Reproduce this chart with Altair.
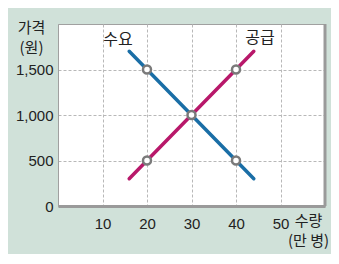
import altair as alt
import pandas as pd

# Data
demand_q = [16, 20, 30, 40, 44]
demand_p = [1700, 1500, 1000, 500, 300]
supply_q = [16, 20, 30, 40, 44]
supply_p = [300, 500, 1000, 1500, 1700]
point_q = [20, 40, 30, 20, 40]
point_p = [1500, 1500, 1000, 500, 500]
label_text = ["수요", "공급"]
label_q = [13.5, 45.4]
label_p = [1820, 1845]
x_ticks = [10, 20, 30, 40, 50]
y_ticks = [0, 500, 1000, 1500]

lines = pd.DataFrame({
    "q": demand_q + supply_q,
    "p": demand_p + supply_p,
    "s": ["수요"] * len(demand_q) + ["공급"] * len(supply_q),
})
pts = pd.DataFrame({"q": point_q, "p": point_p})
labels = pd.DataFrame({"t": label_text, "q": label_q, "p": label_p})
frame = pd.DataFrame({"q": [60], "p": [0], "p2": [2000]})

xs = alt.Scale(domain=[0, 60], nice=False, zero=True)
ys = alt.Scale(domain=[0, 2000], nice=False)

x_axis = alt.Axis(values=x_ticks, grid=True, gridDash=[3, 2], gridColor="#b8b8b8",
                  ticks=False, domainColor="#9a9a9a", domainWidth=3,
                  labelFont="Liberation Sans", labelFontSize=15, labelColor="#222",
                  labelPadding=10,
                  title=["수량", "(만 병)"], titleFont="Noto Sans CJK KR",
                  titleFontSize=15, titleFontWeight="normal", titleColor="#222",
                  titleAnchor="start", titleAlign="center", titleBaseline="top",
                  titleX=250, titleY=7, titleLineHeight=20)
y_axis = alt.Axis(values=y_ticks, grid=True, gridDash=[3, 2], gridColor="#b8b8b8",
                  ticks=False, domainColor="#a0a0a0", domainWidth=1, format=",.0f",
                  labelFont="Liberation Sans", labelFontSize=15, labelColor="#222",
                  labelPadding=5,
                  title=["가격", "(원)"], titleFont="Noto Sans CJK KR",
                  titleFontSize=15, titleFontWeight="normal", titleColor="#222",
                  titleAngle=0, titleAlign="center", titleBaseline="top",
                  titleX=-27, titleY=-4, titleLineHeight=20)

line_layer = alt.Chart(lines).mark_line(strokeWidth=3.5, strokeCap="round").encode(
    x=alt.X("q:Q", scale=xs, axis=x_axis),
    y=alt.Y("p:Q", scale=ys, axis=y_axis),
    color=alt.Color("s:N", scale=alt.Scale(domain=["수요", "공급"],
                                            range=["#1a6ea6", "#b8186a"]), legend=None),
    detail="s:N",
)

right_edge = alt.Chart(frame).mark_rule(color="#9a9a9a", strokeWidth=3).encode(
    x="q:Q", y="p:Q", y2="p2:Q")

point_layer = alt.Chart(pts).mark_point(shape="circle", size=64, filled=False,
                                        fill="white", fillOpacity=1,
                                        stroke="#7a7a7a", strokeWidth=2.5, opacity=1).encode(
    x="q:Q", y="p:Q")

text_layer = alt.Chart(labels).mark_text(font="Noto Sans CJK KR", fontSize=16,
                                         color="#222", align="center",
                                         baseline="middle").encode(
    x="q:Q", y="p:Q", text="t:N")

chart = alt.layer(line_layer, right_edge, point_layer, text_layer).properties(
    width=267, height=182,
    background="#d0e1d9",
    padding={"left": 50, "top": 16, "right": 6, "bottom": 48},
    autosize=alt.AutoSizeParams(type="none"),
).configure_view(stroke="#a0a0a0", strokeWidth=1, fill="white")

chart.save("out.html", embed_options={"renderer": "svg", "actions": False})
